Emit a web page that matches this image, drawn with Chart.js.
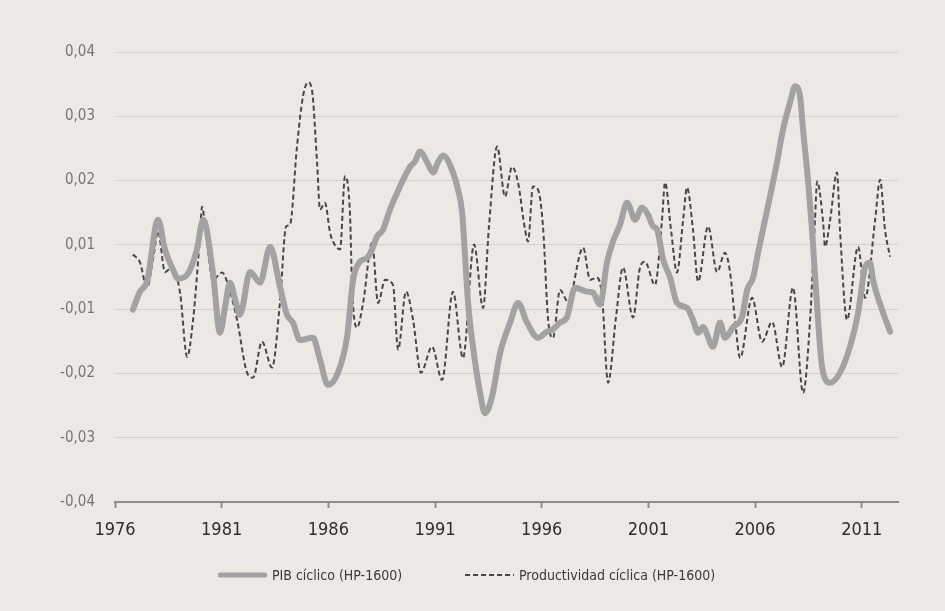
<!DOCTYPE html>
<html>
<head>
<meta charset="utf-8">
<script src="https://cdn.jsdelivr.net/npm/chart.js@4.4.1/dist/chart.umd.min.js"></script>
<style>
  html, body { margin: 0; padding: 0; background: #ece8e4; }
  #wrap { position: relative; width: 945px; height: 611px; }
  #legend {
    position: absolute; left: 0; top: 565px; height: 20px; width: 945px;
    font-family: 'Liberation Sans Narrow', 'DejaVu Sans Condensed', 'Liberation Sans', sans-serif;
    font-size: 14px; color: #3a3a3a;
  }
  .item { position: absolute; top: 0; height: 20px; display: flex; align-items: center; white-space: nowrap; }
  .item svg { margin-right: 5px; }
</style>
</head>
<body>
<div id="wrap">
  <canvas id="chart" width="945" height="611"></canvas>
  <div id="legend"></div>
</div>
<script>
const FONT = "'Liberation Sans Narrow', 'DejaVu Sans Condensed', 'Liberation Sans', sans-serif";

const seriesNames = ['PIB cíclico (HP-1600)', 'Productividad cíclica (HP-1600)'];
const xTickYears = [1976, 1981, 1986, 1991, 1996, 2001, 2006, 2011];
// printed labels, top to bottom, as in the original
const yTickLabels = ['0,04', '0,03', '0,02', '0,01', '-0,01', '-0,02', '-0,03', '-0,04'];

const pibYears = [1976.84,1977.17,1977.50,1978.02,1978.34,1978.72,1978.95,1979.38,1979.84,1980.13,
  1980.59,1980.92,1981.16,1981.39,1981.63,1981.86,1982.33,1982.80,1983.27,1983.73,
  1984.06,1984.34,1984.67,1985.28,1985.61,1985.98,1986.45,1986.88,1987.16,1987.48,
  1987.81,1988.05,1988.28,1988.56,1988.89,1989.36,1989.83,1990.06,1990.30,1990.63,
  1990.91,1991.14,1991.38,1991.84,1992.08,1992.27,1992.36,1992.55,1992.78,1993.11,
  1993.34,1993.67,1994.05,1994.52,1994.89,1995.31,1995.83,1996.25,1996.48,1996.86,
  1997.19,1997.56,1998.13,1998.41,1998.73,1999.06,1999.34,1999.67,2000.00,2000.38,
  2000.70,2000.98,2001.22,2001.41,2001.69,2002.02,2002.34,2002.81,2003.09,2003.33,
  2003.56,2004.03,2004.36,2004.59,2004.97,2005.39,2005.63,2005.91,2006.14,2006.47,
  2007.03,2007.31,2007.64,2007.88,2008.11,2008.25,2008.48,2008.67,2008.95,2009.14,
  2009.52,2009.98,2010.45,2010.83,2011.16,2011.39,2011.53,2011.95,2012.33];
const pibValues = [-0.0058,-0.0026,-0.0008,0.0102,0.0049,0.0013,-0.0003,0.0004,0.0049,0.0102,
  0.0008,-0.0099,-0.0053,-0.0010,-0.0040,-0.0067,0.0009,-0.0010,0.0054,-0.0017,
  -0.0067,-0.0081,-0.0112,-0.0108,-0.0147,-0.0192,-0.0170,-0.0106,-0.0005,0.0027,
  0.0034,0.0049,0.0072,0.0084,0.0120,0.0161,0.0196,0.0205,0.0223,0.0204,
  0.0186,0.0204,0.0216,0.0186,0.0155,0.0115,0.0066,-0.0046,-0.0124,-0.0206,
  -0.0242,-0.0213,-0.0135,-0.0081,-0.0046,-0.0081,-0.0108,-0.0097,-0.0094,-0.0081,
  -0.0071,-0.0019,-0.0026,-0.0028,-0.0049,0.0026,0.0063,0.0093,0.0132,0.0102,
  0.0123,0.0111,0.0090,0.0084,0.0031,-0.0001,-0.0046,-0.0055,-0.0076,-0.0099,
  -0.0089,-0.0124,-0.0081,-0.0108,-0.0089,-0.0071,-0.0023,-0.0001,0.0043,0.0102,
  0.0204,0.0262,0.0310,0.0339,0.0321,0.0262,0.0173,0.0084,-0.0076,-0.0160,
  -0.0188,-0.0170,-0.0124,-0.0064,0.0018,0.0026,-0.0005,-0.0058,-0.0097];

const prodYears = [1976.84,1977.17,1977.50,1977.78,1978.02,1978.34,1978.67,1979.05,1979.38,1979.66,
  1979.98,1980.08,1980.27,1980.59,1981.02,1981.25,1981.72,1982.19,1982.47,1982.89,
  1983.36,1983.73,1984.02,1984.20,1984.53,1984.81,1985.05,1985.23,1985.47,1985.61,
  1985.84,1986.08,1986.22,1986.55,1986.78,1987.02,1987.11,1987.34,1987.63,1988.05,
  1988.33,1988.66,1989.03,1989.27,1989.64,1989.97,1990.34,1990.86,1991.33,1991.84,
  1992.31,1992.83,1993.25,1993.53,1993.91,1994.28,1994.61,1994.89,1995.22,1995.36,
  1995.59,1995.83,1996.06,1996.30,1996.53,1996.86,1997.23,1997.94,1998.27,1998.59,
  1998.83,1999.11,1999.48,1999.81,2000.28,2000.61,2000.84,2001.31,2001.64,2001.78,
  2002.06,2002.34,2002.63,2002.81,2003.09,2003.33,2003.80,2004.22,2004.59,2004.83,
  2005.06,2005.30,2005.86,2006.33,2006.80,2007.27,2007.78,2008.25,2008.58,2008.81,
  2008.91,2009.19,2009.28,2009.52,2009.84,2009.98,2010.31,2010.83,2011.16,2011.63,
  2011.86,2012.09,2012.33];
const prodValues = [0.0040,0.0026,-0.0019,0.0031,0.0081,0.0009,0.0017,-0.0028,-0.0142,-0.0076,
  0.0072,0.0125,0.0075,-0.0005,0.0008,-0.0008,-0.0076,-0.0170,-0.0179,-0.0115,
  -0.0161,-0.0046,0.0090,0.0093,0.0232,0.0321,0.0346,0.0333,0.0204,0.0120,
  0.0132,0.0079,0.0063,0.0049,0.0179,0.0107,-0.0017,-0.0090,-0.0046,0.0061,
  -0.0046,-0.0005,-0.0014,-0.0129,-0.0026,-0.0076,-0.0170,-0.0124,-0.0183,-0.0026,
  -0.0144,0.0058,-0.0055,0.0091,0.0232,0.0143,0.0196,0.0168,0.0084,0.0063,
  0.0161,0.0155,0.0090,-0.0076,-0.0108,-0.0023,-0.0044,0.0052,-0.0005,-0.0001,
  -0.0035,-0.0188,-0.0072,0.0017,-0.0072,0.0017,0.0027,-0.0014,0.0102,0.0168,
  0.0084,0.0008,0.0102,0.0159,0.0084,-0.0008,0.0090,0.0009,0.0043,0.0008,
  -0.0076,-0.0144,-0.0037,-0.0115,-0.0080,-0.0160,-0.0019,-0.0206,-0.0076,0.0102,
  0.0170,0.0097,0.0054,0.0102,0.0186,0.0084,-0.0076,0.0054,-0.0037,0.0102,
  0.0173,0.0084,0.0036];

const toPoints = (xs, ys) => xs.map((x, i) => ({ x: x, y: ys[i] }));

const datasets = [
  {
    label: seriesNames[0],
    data: toPoints(pibYears, pibValues),
    borderColor: '#a2a2a2',
    borderWidth: 6,
    borderCapStyle: 'round',
    borderJoinStyle: 'round',
    borderDash: []
  },
  {
    label: seriesNames[1],
    data: toPoints(prodYears, prodValues),
    borderColor: '#474747',
    borderWidth: 2,
    borderDash: [5, 3]
  }
];

const chart = new Chart(document.getElementById('chart'), {
  type: 'line',
  data: { datasets: datasets },
  options: {
    responsive: false,
    animation: false,
    layout: { padding: { left: 0, right: 47, top: 52, bottom: 0 } },
    elements: {
      point: { radius: 0, hoverRadius: 0 },
      line: { cubicInterpolationMode: 'monotone', fill: false }
    },
    plugins: {
      legend: { display: false },
      tooltip: { enabled: false }
    },
    scales: {
      x: {
        type: 'linear',
        min: 1976,
        max: 2012.7,
        afterBuildTicks: (scale) => { scale.ticks = xTickYears.map(v => ({ value: v })); },
        afterFit: (scale) => { scale.height = 109; },
        grid: { drawOnChartArea: false, drawTicks: true, tickLength: 6, tickWidth: 2, color: '#8c8c8c' },
        border: { display: true, color: '#8c8c8c', width: 2 },
        ticks: {
          padding: 12,
          maxRotation: 0,
          color: '#2e2e2e',
          font: { family: FONT, size: 18 },
          callback: (value) => String(value)
        }
      },
      y: {
        min: -0.04,
        max: 0.04,
        afterBuildTicks: (scale) => {
          const n = yTickLabels.length;
          scale.ticks = yTickLabels.map((_, i) => ({ value: -0.04 + i * 0.08 / (n - 1) }));
        },
        afterFit: (scale) => { scale.width = 115; },
        grid: { drawTicks: false, color: '#d4cfca', lineWidth: 1 },
        border: { display: false },
        ticks: {
          padding: 20,
          color: '#767676',
          font: { family: FONT, size: 15 },
          callback: (value, index, ticks) => yTickLabels[ticks.length - 1 - index]
        }
      }
    }
  }
});

// legend below the plot, built from the dataset styles
const legendLeft = [218, 465];
const legendEl = document.getElementById('legend');
chart.data.datasets.forEach((ds, i) => {
  const item = document.createElement('div');
  item.className = 'item';
  item.style.left = legendLeft[i] + 'px';
  const thick = ds.borderWidth > 3;
  const dash = (ds.borderDash || []).join(' ');
  item.innerHTML =
    `<svg width="49" height="8"><line x1="${thick ? 2 : 0}" y1="4" x2="${thick ? 47 : 49}" y2="4"
      stroke="${ds.borderColor}" stroke-width="${thick ? 5 : 2}" stroke-linecap="${thick ? 'round' : 'butt'}"
      stroke-dasharray="${dash}"/></svg><span>${ds.label}</span>`;
  legendEl.appendChild(item);
});
</script>
</body>
</html>
